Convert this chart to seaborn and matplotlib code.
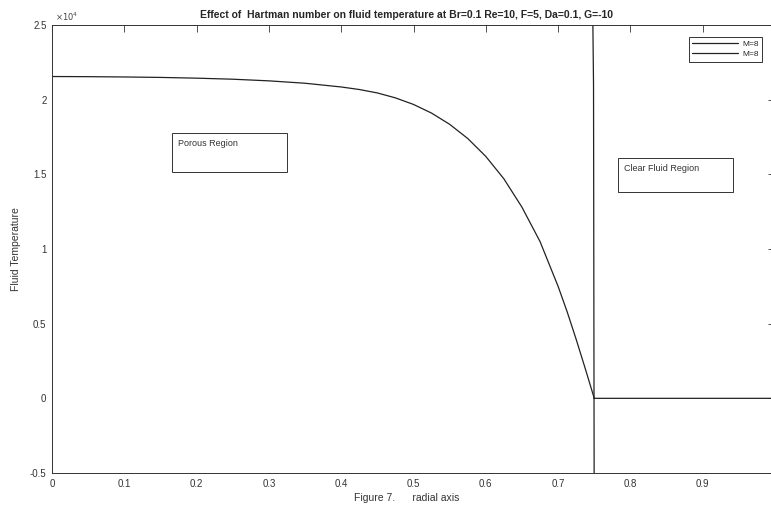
import matplotlib
matplotlib.use("Agg")
import matplotlib.pyplot as plt
import numpy as np
import pandas as pd
import seaborn as sns
from matplotlib.patches import Rectangle
from matplotlib.ticker import FuncFormatter, MultipleLocator

# porous region (0 <= r <= 0.75)
porous_r = [0.0, 0.05, 0.1, 0.15, 0.2, 0.25, 0.3, 0.35, 0.4, 0.425, 0.45,
            0.475, 0.5, 0.525, 0.55, 0.575, 0.6, 0.625, 0.65, 0.675, 0.7,
            0.7125, 0.725, 0.7375, 0.75]
porous_T = [21550, 21540, 21520, 21490, 21440, 21370, 21260, 21100, 20850,
            20680, 20450, 20120, 19680, 19100, 18350, 17400, 16200, 14700,
            12800, 10500, 7500, 5800, 3950, 2000, 0]

# clear fluid region: near-vertical jump at the interface, then flat zero
clear_r = [0.747, 0.749, 0.750, np.nan, 0.750, 1.0]
clear_T = [30000, 21000, -10000, np.nan, 0, 0]

labels = ["M=8", "M=8"]
title = "Effect of  Hartman number on fluid temperature at Br=0.1 Re=10, F=5, Da=0.1, G=-10"

sns.set_style("white")
plt.rcParams["font.family"] = ["Liberation Sans", "DejaVu Sans"]

fig = plt.figure(figsize=(7.71, 5.15), dpi=100)
ax = fig.add_axes([52 / 771, 42 / 515, 723 / 771, 448 / 515])

df1 = pd.DataFrame({"r": porous_r, "T": porous_T})
df2 = pd.DataFrame({"r": clear_r, "T": clear_T})
sns.lineplot(data=df1, x="r", y="T", ax=ax, color="#222222", lw=0.9, label=labels[0], sort=False)
ax.plot(df2["r"], df2["T"], color="#222222", lw=0.9, label=labels[1])

ax.set_xlim(0, 1)
ax.set_ylim(-5000, 25000)
ax.set_xticks(np.arange(0, 0.95, 0.1))
ax.yaxis.set_major_locator(MultipleLocator(5000))
ax.xaxis.set_major_formatter(FuncFormatter(lambda v, _: f"{v:g}"))
ax.yaxis.set_major_formatter(FuncFormatter(lambda v, _: f"{v / 1e4:g}"))
ax.tick_params(direction="in", top=True, right=True, length=5, width=0.6,
               labelsize=7, colors="#333333", pad=4)
for s in ax.spines.values():
    s.set_color("#333333")
    s.set_linewidth(0.7)

ax.text(0.004, 1.004, r"$\times10^4$", transform=ax.transAxes, fontsize=6,
        color="#444444", va="bottom", ha="left")
ax.set_title(title, fontsize=7.5, fontweight="bold", pad=5, x=0.49)
ax.set_xlabel("Figure 7.      radial axis", fontsize=7.5, color="#333333", labelpad=3, x=0.49)
ax.set_ylabel("Fluid Temperature", fontsize=7.5, color="#333333", labelpad=6)

# annotation text boxes
boxes = [("Porous Region", 0.166, 15130, 0.159, 2620),
         ("Clear Fluid Region", 0.783, 13800, 0.159, 2270)]
for txt, bx, by, bw, bh in boxes:
    ax.add_patch(Rectangle((bx, by), bw, bh, fill=False, ec="#333333", lw=0.7))
    ax.text(bx + 0.008, by + bh - 400, txt, fontsize=6.5, color="#333333",
            va="top", ha="left")

leg = ax.legend(loc="upper right", bbox_to_anchor=(0.982, 0.973), fontsize=6,
                frameon=True, fancybox=False, edgecolor="#333333", framealpha=1,
                handlelength=5.5, handletextpad=0.5, borderpad=0.4, labelspacing=0.25,
                borderaxespad=0)
leg.get_frame().set_linewidth(0.7)

fig.savefig("out.png", dpi=100)
